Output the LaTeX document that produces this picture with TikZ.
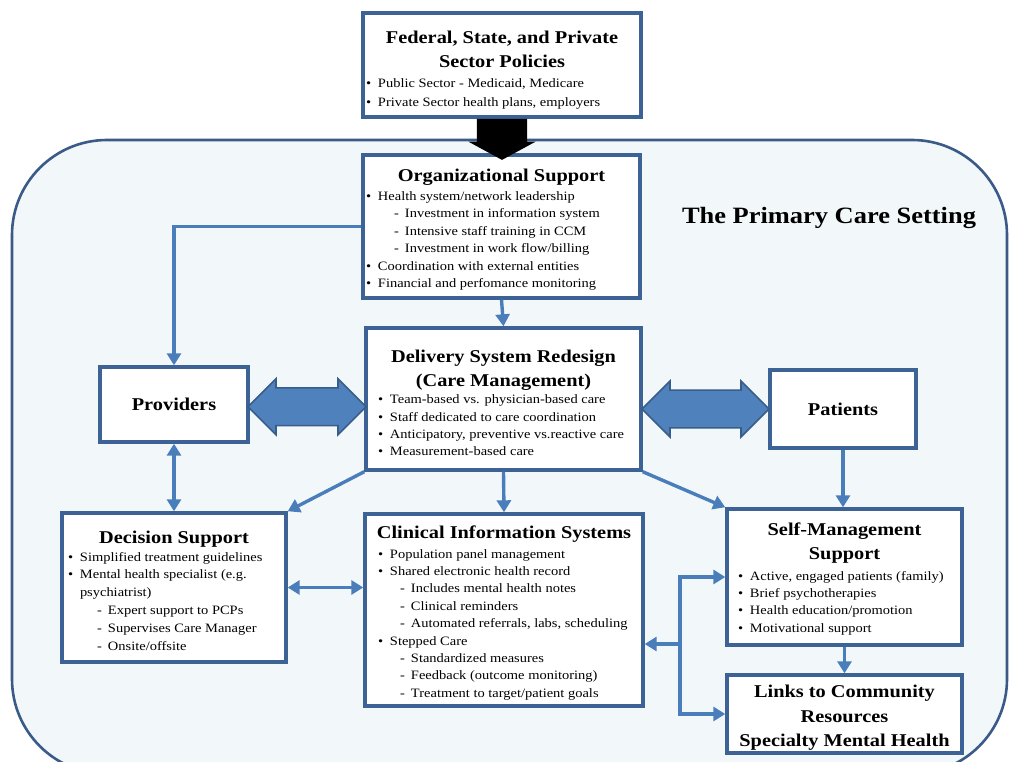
\documentclass[tikz,border=0pt]{standalone}
\usepackage{fontspec}
\setmainfont{Liberation Serif}[FakeStretch=1.13]
\usetikzlibrary{arrows.meta,shapes.arrows,calc}
\definecolor{bgblue}{HTML}{F2F7FA}
\definecolor{boxblue}{HTML}{3D6296}
\definecolor{lineblue}{HTML}{4A7EBB}
\definecolor{arrfill}{HTML}{4F81BD}
\definecolor{arrdraw}{HTML}{385D8A}
\definecolor{framebl}{HTML}{3A5A88}
\newlength\subind
\newlength\lpad
\setlength\subind{14pt}
\setlength\lpad{0pt}
\newcommand{\ttl}{\bfseries\fontsize{18}{24}\selectfont}
\newcommand{\bod}{\normalfont\fontsize{12.8}{17.4}\selectfont}
\newcommand{\bl}[1]{\par\hangindent=\dimexpr11pt+\lpad\relax\noindent\hspace*{\dimexpr\lpad-1pt\relax}\makebox[12pt][l]{\textbullet}#1}
\newcommand{\sbl}[1]{\par\hangindent=\dimexpr22pt+\subind+\lpad\relax\noindent\hspace*{\dimexpr11pt+\subind+\lpad\relax}\makebox[11pt][l]{-}#1}
\begin{document}
\begin{tikzpicture}[x=1pt,y=-1pt,
  box/.style={draw=boxblue,line width=3.4pt,fill=white,inner sep=0pt},
  conn/.style={draw=lineblue,line width=3.4pt},
  tip/.style={-{Triangle[width=14pt,length=12pt]}},
  dtip/.style={{Triangle[width=14pt,length=12pt]}-{Triangle[width=14pt,length=12pt]}},
  bigarrow/.style={double arrow,fill=arrfill,draw=arrdraw,line width=1.6pt,inner xsep=0pt,inner ysep=14pt,minimum width=56pt,double arrow tip angle=90},
  lbl/.style={font=\bfseries\fontsize{18}{22}\selectfont}
]
\useasboundingbox (0,0) rectangle (1010,762);
\begin{scope}
\clip (0,0) rectangle (1010,762);
\fill[white] (0,0) rectangle (1010,762);
\draw[draw=framebl,line width=2.6pt,fill=bgblue,rounded corners=95pt] (12,140) rectangle (1007,774);
\end{scope}

\node[font=\bfseries\fontsize{23.4}{28}\selectfont] (setting) at (829,218) {The Primary Care Setting};

\node[box,minimum width=278pt,minimum height=104pt] (fed) at (502,65) {\begin{minipage}{270pt}\vspace*{10pt}\setlength\lpad{0pt}\centering\ttl Federal, State, and Private\\Sector Policies\par\raggedright\normalfont\fontsize{12.8}{19}\selectfont\vspace{1pt}
\bl{Public Sector - Medicaid, Medicare}
\bl{Private Sector health plans, employers}\end{minipage}};

\node[box,minimum width=277pt,minimum height=143pt] (org) at (501.5,226.5) {\begin{minipage}{269pt}\vspace*{6pt}\setlength\lpad{0pt}\setlength\subind{16pt}\centering\ttl Organizational Support\par\raggedright\bod\vspace{2pt}
\bl{Health system/network leadership}
\sbl{Investment in information system}
\sbl{Intensive staff training in CCM}
\sbl{Investment in work flow/billing}
\bl{Coordination with external entities}
\bl{Financial and perfomance monitoring}\end{minipage}};

\node[box,minimum width=275pt,minimum height=142pt] (del) at (503.5,399) {\begin{minipage}{267pt}\vspace*{8pt}\setlength\lpad{9pt}\centering\ttl Delivery System Redesign\\(Care Management)\par\raggedright\bod
\bl{Team-based vs. physician-based care}
\bl{Staff dedicated to care coordination}
\bl{Anticipatory, preventive vs.reactive care}
\bl{Measurement-based care}\end{minipage}};

\node[box,minimum width=148pt,minimum height=75pt,lbl] (prov) at (174,404.5) {Providers};
\node[box,minimum width=146pt,minimum height=78pt,lbl] (pat) at (843,409) {Patients};

\node[box,minimum width=224pt,minimum height=149pt] (dec) at (174,587.5) {\begin{minipage}{216pt}\vspace*{6pt}\setlength\lpad{3pt}\setlength\subind{17pt}\centering\ttl Decision Support\par\raggedright\normalfont\fontsize{12.8}{17.8}\selectfont
\bl{Simplified treatment guidelines}
\bl{Mental health specialist (e.g.\newline psychiatrist)}
\sbl{Expert support to PCPs}
\sbl{Supervises Care Manager}
\sbl{Onsite/offsite}\end{minipage}};

\node[box,minimum width=278pt,minimum height=192pt] (cis) at (504,610) {\begin{minipage}{270pt}\vspace*{6pt}\setlength\lpad{10pt}\setlength\subind{10pt}\centering\ttl Clinical Information Systems\par\raggedright\bod\vspace{2pt}
\bl{Population panel management}
\bl{Shared electronic health record}
\sbl{Includes mental health notes}
\sbl{Clinical reminders}
\sbl{Automated referrals, labs, scheduling}
\bl{Stepped Care}
\sbl{Standardized measures}
\sbl{Feedback (outcome monitoring)}
\sbl{Treatment to target/patient goals}\end{minipage}};

\node[box,minimum width=235pt,minimum height=136pt] (sms) at (844.5,577) {\begin{minipage}{227pt}\vspace*{4pt}\setlength\lpad{8pt}\centering\ttl Self-Management\\Support\par\raggedright\bod\vspace{3pt}
\bl{Active, engaged patients (family)}
\bl{Brief psychotherapies}
\bl{Health education/promotion}
\bl{Motivational support}\end{minipage}};

\node[box,minimum width=235pt,minimum height=78pt] (lnk) at (844.5,714) {\begin{minipage}{227pt}\vspace*{8pt}\centering\bfseries\fontsize{18}{24.5}\selectfont Links to Community\\Resources\\Specialty Mental Health\end{minipage}};

% connectors
\draw[conn,tip] (org.west) -| (prov.north);
\draw[conn,tip] (org.south) -- (del.north);
\draw[conn,dtip] (prov.south) -- (dec.north);
\draw[conn,tip] (del.south west) -- (dec.north east);
\draw[conn,tip] (del.south) -- (cis.north);
\draw[conn,tip] (del.south east) -- (sms.north west);
\draw[conn,dtip] (dec.east) -- (cis.west |- dec.east);
\draw[conn,tip] (pat.south) -- (pat.south |- sms.north);
\draw[conn,tip] (sms.south) -- (lnk.north);
\coordinate (br) at (680,644);
\draw[conn,tip] (br) -- (br -| cis.east);
\draw[conn,tip] (br) |- (sms.west);
\draw[conn,tip] (br) |- (lnk.west);

\node[bigarrow,minimum height=118pt] (a1) at ($(prov.east)!0.5!(del.west)+(0,5)$) {};
\node[bigarrow,minimum height=127pt] (a2) at ($(del.east)!0.5!(pat.west)+(0,5)$) {};

\node[single arrow,fill=black,draw=none,rotate=-90,inner xsep=0pt,inner ysep=21pt,minimum width=67pt,minimum height=41pt,single arrow tip angle=123,anchor=tail] (pol) at (fed.south) {};
\end{tikzpicture}
\end{document}
